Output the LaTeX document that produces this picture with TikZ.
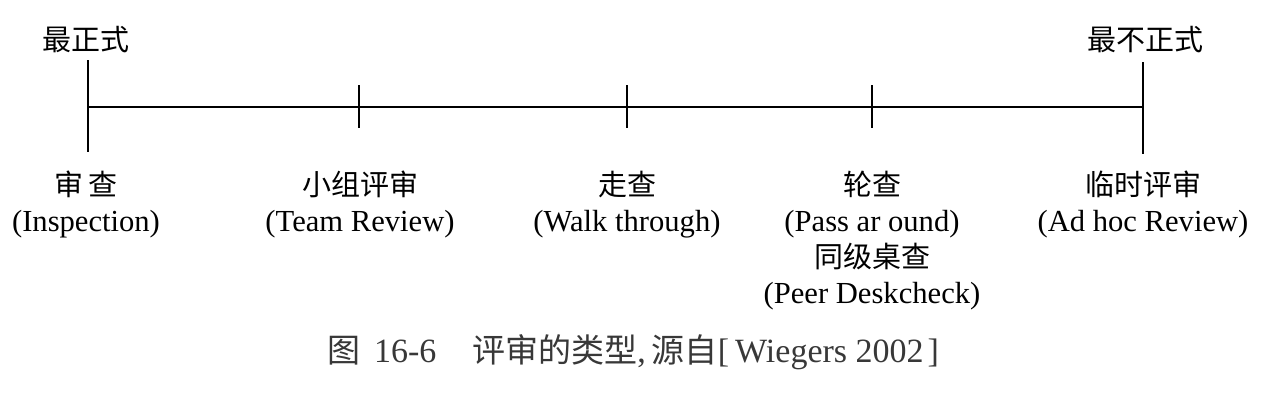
\documentclass[tikz,border=0pt]{standalone}
\usepackage{fontspec}
\setmainfont{Liberation Serif}
\newfontfamily\cjk{Noto Sans CJK SC}
\newcommand{\zhl}{\cjk\fontsize{14.5}{18}\selectfont}
\newcommand{\zhc}{\cjk\fontsize{16.5}{20}\selectfont}
\begin{document}
\begin{tikzpicture}[x=0.5pt,y=-0.5pt,
  axisline/.style={line width=1.4pt},
  tickline/.style={line width=1.1pt},
  lab/.style={align=center, inner sep=0pt, anchor=north, font=\fontsize{15.3}{18}\selectfont},
  zh/.style={font=\zhl, inner sep=0pt},
  capt/.style={inner sep=0pt, text=black!78, font=\fontsize{17}{20}\selectfont}]
\useasboundingbox[fill=white] (0,0) rectangle (1285,402);
% axis
\coordinate (L) at (88,107);
\coordinate (R) at (1143,107);
\draw[axisline] (L) -- (R);
% end ticks
\coordinate (Ltop) at (88,60);
\coordinate (Lbot) at (88,152);
\coordinate (Rtop) at (1143,62);
\coordinate (Rbot) at (1143,154);
\draw[tickline] (Ltop) -- (Lbot);
\draw[tickline] (Rtop) -- (Rbot);
% middle ticks
\coordinate (t1a) at (359,85); \coordinate (t1b) at (359,128);
\coordinate (t2a) at (627,85); \coordinate (t2b) at (627,128);
\coordinate (t3a) at (872,85); \coordinate (t3b) at (872,128);
\draw[tickline] (t1a) -- (t1b);
\draw[tickline] (t2a) -- (t2b);
\draw[tickline] (t3a) -- (t3b);
% end labels
\node[zh] (most) at (86,40) {最正式};
\node[zh] (least) at (1145,40) {最不正式};
% category labels
\node[lab] (insp) at (86,171) {{\zhl 审\,查}\\(Inspection)};
\node[lab] (team) at (360,171) {{\zhl 小组评审}\\(Team Review)};
\node[lab] (walk) at (627,171) {{\zhl 走查}\\(Walk through)};
\node[lab] (pass) at (872,171) {{\zhl 轮查}\\(Pass ar ound)\\{\zhl 同级桌查}\\(Peer Deskcheck)};
\node[lab] (adhoc) at (1143,171) {{\zhl 临时评审}\\(Ad hoc Review)};
% caption
\node[capt] (cap) at (633,352) {{\zhc 图}\hspace{7pt}16-6\hspace{18pt}{\zhc 评审的类型},\hspace{3pt}{\zhc 源自}[\hspace{3pt}Wiegers 2002\hspace{2pt}]};
\end{tikzpicture}
\end{document}
